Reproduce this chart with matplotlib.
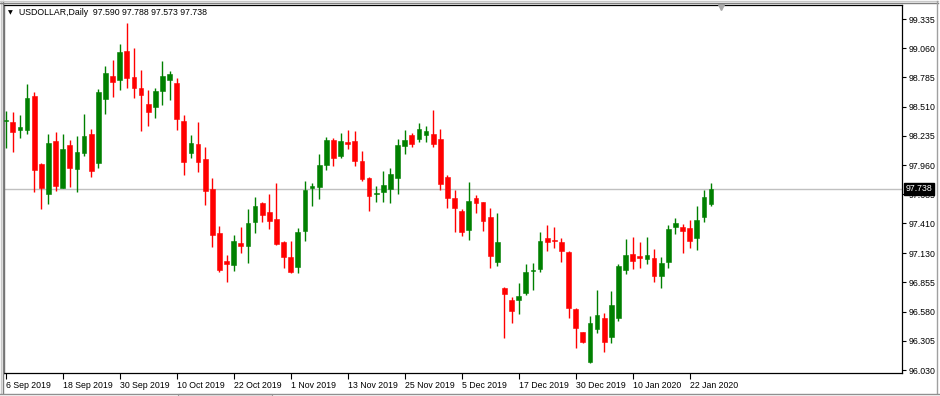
"""
USDOLLAR daily candles, Sep 2019 - Jan 2020, drawn MetaTrader-style.
Writes out.png (940x396).
"""
import numpy as np
import pandas as pd
import matplotlib
matplotlib.use('Agg')
import matplotlib.pyplot as plt
from matplotlib.transforms import blended_transform_factory

# ===========================================================
# Data
# ===========================================================
SYMBOL = "USDOLLAR,Daily"
FIRST_DAY = "2019-09-06"
LAST_DAY = "2020-01-27"
HOLIDAYS = ["2019-12-25", "2020-01-01"]

OPEN = [98.375, 98.362, 98.287, 98.287, 98.613, 97.970, 97.687, 98.186, 97.747, 98.149,
        97.920, 98.076, 98.252, 97.979, 98.582, 98.801, 98.758, 99.037, 98.789, 98.688,
        98.535, 98.506, 98.657, 98.758, 98.735, 98.375, 98.071, 98.158, 98.017, 97.734,
        97.323, 97.056, 97.019, 97.223, 97.200, 97.427, 97.600, 97.515, 97.452, 97.232,
        97.091, 97.003, 97.342, 97.747, 97.756, 97.960, 98.196, 98.048, 98.177, 98.186,
        97.998, 97.841, 97.687, 97.706, 97.734, 97.835, 98.142, 98.243, 98.205, 98.246,
        98.252, 98.202, 97.850, 97.647, 97.527, 97.348, 97.647, 97.609, 97.473, 97.050,
        96.805, 96.689, 96.689, 96.758, 96.959, 96.978, 97.276, 97.254, 97.238, 97.144,
        96.604, 96.385, 96.102, 96.416, 96.523, 96.344, 96.523, 96.972, 97.119, 97.103,
        97.078, 97.082, 96.918, 97.044, 97.374, 97.374, 97.364, 97.276, 97.473, 97.590]
HIGH = [98.469, 98.457, 98.431, 98.720, 98.651, 97.976, 98.255, 98.274, 98.252, 98.193,
        98.236, 98.438, 98.299, 98.676, 98.895, 98.949, 99.097, 99.295, 99.059, 98.855,
        98.667, 98.688, 98.940, 98.846, 98.777, 98.431, 98.243, 98.362, 98.133, 97.835,
        97.386, 97.113, 97.302, 97.380, 97.543, 97.662, 97.609, 97.685, 97.788, 97.245,
        97.248, 97.367, 97.810, 97.788, 98.061, 98.227, 98.215, 98.259, 98.290, 98.281,
        98.092, 97.850, 97.763, 97.907, 97.929, 98.202, 98.290, 98.259, 98.353, 98.328,
        98.478, 98.299, 97.866, 97.725, 97.543, 97.803, 97.678, 97.615, 97.558, 97.511,
        96.814, 96.720, 96.847, 97.026, 97.040, 97.329, 97.395, 97.374, 97.270, 97.153,
        96.617, 96.391, 96.539, 96.783, 96.564, 96.771, 97.026, 97.261, 97.280, 97.232,
        97.285, 97.167, 97.097, 97.395, 97.464, 97.405, 97.443, 97.574, 97.725, 97.788]
LOW = [98.120, 98.086, 98.212, 98.255, 97.709, 97.543, 97.596, 97.718, 97.740, 97.753,
       97.703, 98.048, 97.850, 97.935, 98.438, 98.603, 98.667, 98.683, 98.594, 98.281,
       98.330, 98.406, 98.525, 98.572, 98.293, 97.866, 98.023, 97.892, 97.584, 97.191,
       96.950, 96.862, 96.962, 97.135, 97.035, 97.317, 97.427, 97.358, 97.204, 96.993,
       96.941, 96.946, 97.248, 97.574, 97.637, 97.913, 97.951, 98.029, 98.111, 97.954,
       97.810, 97.527, 97.612, 97.609, 97.600, 97.685, 98.061, 98.133, 98.180, 98.180,
       98.127, 97.725, 97.558, 97.327, 97.292, 97.254, 97.505, 97.342, 96.993, 97.009,
       96.334, 96.476, 96.557, 96.736, 96.783, 96.956, 97.154, 97.176, 97.050, 96.517,
       96.240, 96.287, 96.093, 96.376, 96.203, 96.282, 96.494, 96.934, 96.984, 96.993,
       97.028, 96.859, 96.800, 96.993, 97.308, 97.129, 97.176, 97.160, 97.427, 97.573]
CLOSE = [98.384, 98.274, 98.318, 98.594, 97.910, 97.747, 98.168, 97.763, 98.111, 97.929,
         98.083, 98.233, 97.904, 98.645, 98.824, 98.739, 99.027, 98.782, 98.683, 98.622,
         98.462, 98.657, 98.801, 98.814, 98.393, 97.991, 98.168, 97.991, 97.718, 97.301,
         96.972, 97.025, 97.247, 97.200, 97.411, 97.574, 97.487, 97.436, 97.217, 97.091,
         96.956, 97.329, 97.725, 97.765, 97.960, 98.196, 98.029, 98.186, 98.158, 98.001,
         97.826, 97.671, 97.699, 97.772, 97.876, 98.149, 98.196, 98.155, 98.299, 98.284,
         98.155, 97.779, 97.652, 97.553, 97.332, 97.624, 97.600, 97.436, 97.104, 97.238,
         96.743, 96.588, 96.730, 96.953, 96.975, 97.248, 97.238, 97.245, 97.151, 96.617,
         96.423, 96.297, 96.470, 96.545, 96.297, 96.645, 97.012, 97.110, 97.059, 97.087,
         97.110, 96.918, 97.035, 97.355, 97.411, 97.342, 97.245, 97.443, 97.656, 97.738]

PRICE_TICKS = [99.335, 99.060, 98.785, 98.510, 98.235, 97.960, 97.685,
               97.410, 97.130, 96.855, 96.580, 96.305, 96.030]
DATE_TICKS = ["2019-09-06", "2019-09-18", "2019-09-30", "2019-10-10", "2019-10-22",
              "2019-11-01", "2019-11-13", "2019-11-25", "2019-12-05", "2019-12-17",
              "2019-12-30", "2020-01-10", "2020-01-22"]

# ===========================================================
# Style
# ===========================================================
W, H = 940, 396
AX_L, AX_R, AX_T, AX_B = 4, 902, 5, 372.7      # plot frame in pixels
BULL = '#008000'
BEAR = '#ff0000'
GRID_LINE = '#c0c0c0'
FONT = ['Liberation Sans', 'DejaVu Sans']
FS = 6.3


def px_x(x):
    return x / W


def px_y(y):
    return 1 - y / H


def draw_candles(ax, o, h, l, c):
    o, h, l, c = map(np.asarray, (o, h, l, c))
    x = np.arange(len(o))
    colors = np.where(c >= o, BULL, BEAR)
    ax.vlines(x, l, h, colors=colors, lw=1.0, zorder=3)
    bottom = np.minimum(o, c)
    height = np.maximum(np.abs(c - o), 0.012)
    ax.bar(x, height, bottom=bottom, width=0.66, color=colors,
           edgecolor=colors, lw=0.4, zorder=4)


def main():
    plt.rcParams['font.family'] = FONT

    days = pd.bdate_range(FIRST_DAY, LAST_DAY)
    days = days[~days.isin(pd.to_datetime(HOLIDAYS))]
    tick_days = pd.to_datetime(DATE_TICKS)
    tick_pos = [days.get_loc(d) for d in tick_days]
    tick_lab = [f"{d.day} {d:%b %Y}" for d in tick_days]

    fig = plt.figure(figsize=(W / 100, H / 100), dpi=100)
    ax = fig.add_axes([px_x(AX_L), px_y(AX_B),
                       px_x(AX_R - AX_L), (AX_B - AX_T) / H])

    ax.axhline(CLOSE[-1], color=GRID_LINE, lw=1.0, zorder=2)
    draw_candles(ax, OPEN, HIGH, LOW, CLOSE)

    ax.set_xlim(-0.24, 125.8)
    ax.set_ylim(96.005, 99.467)

    # price axis on the right
    ax.yaxis.tick_right()
    ax.set_yticks(PRICE_TICKS)
    ax.set_yticklabels([f"{v:.3f}" for v in PRICE_TICKS])
    ax.tick_params(axis='y', direction='out', length=3, width=0.8,
                   pad=2, labelsize=FS, colors='black')

    # date axis
    ax.set_xticks(tick_pos)
    ax.set_xticklabels(tick_lab)
    for lbl in ax.get_xticklabels():
        lbl.set_ha('left')
    ax.tick_params(axis='x', direction='out', length=4, width=0.8,
                   pad=2, labelsize=FS, colors='black')

    for side in ('right', 'bottom', 'top'):
        ax.spines[side].set_color('black')
        ax.spines[side].set_linewidth(0.9)
    ax.spines['left'].set_color('#707070')
    ax.spines['left'].set_linewidth(1.0)

    # last price box
    tr = blended_transform_factory(ax.transAxes, ax.transData)
    ax.text(1.0045, CLOSE[-1], f"{CLOSE[-1]:.3f}", transform=tr,
            ha='left', va='center', fontsize=FS, color='white', zorder=10,
            bbox=dict(boxstyle='square,pad=0.18', fc='black', ec='black'))

    # chart-shift marker
    ax.plot([(721 - AX_L) / (AX_R - AX_L)], [0.995], marker='v', ms=4.5,
            color='#a8a8a8', transform=ax.transAxes, clip_on=False, zorder=6)

    # header
    fig.text(px_x(8), px_y(12.3), "\u25bc", fontsize=4.5, color='black',
             family='DejaVu Sans', ha='left', va='center')
    fig.text(px_x(19), px_y(12.3),
             f"{SYMBOL}  {OPEN[-1]:.3f} {HIGH[-1]:.3f} {LOW[-1]:.3f} {CLOSE[-1]:.3f}",
             fontsize=FS, color='black', ha='left', va='center')

    # window frame
    for x, col in ((1, '#c8c8c8'), (2.8, '#808080')):
        fig.add_artist(plt.Line2D([px_x(x)] * 2, [px_y(1), px_y(393)],
                                  color=col, lw=1.0, transform=fig.transFigure))
    for y, col in ((1, '#c8c8c8'), (2.8, '#808080')):
        fig.add_artist(plt.Line2D([px_x(0), px_x(938)], [px_y(y)] * 2,
                                  color=col, lw=1.0, transform=fig.transFigure))
    fig.add_artist(plt.Line2D([px_x(936.5)] * 2, [px_y(1), px_y(393)],
                              color='#a0a0a0', lw=1.0, transform=fig.transFigure))
    fig.add_artist(plt.Line2D([px_x(0), px_x(940)], [px_y(393.5)] * 2,
                              color='#909090', lw=1.0, transform=fig.transFigure))
    fig.add_artist(plt.Rectangle((px_x(178), 0), px_x(94), 2.5 / H,
                                 fc='#f4f4f4', ec='#a0a0a0', lw=0.8,
                                 transform=fig.transFigure))

    fig.savefig('out.png', dpi=100, facecolor='white')
    plt.close(fig)


if __name__ == '__main__':
    main()
